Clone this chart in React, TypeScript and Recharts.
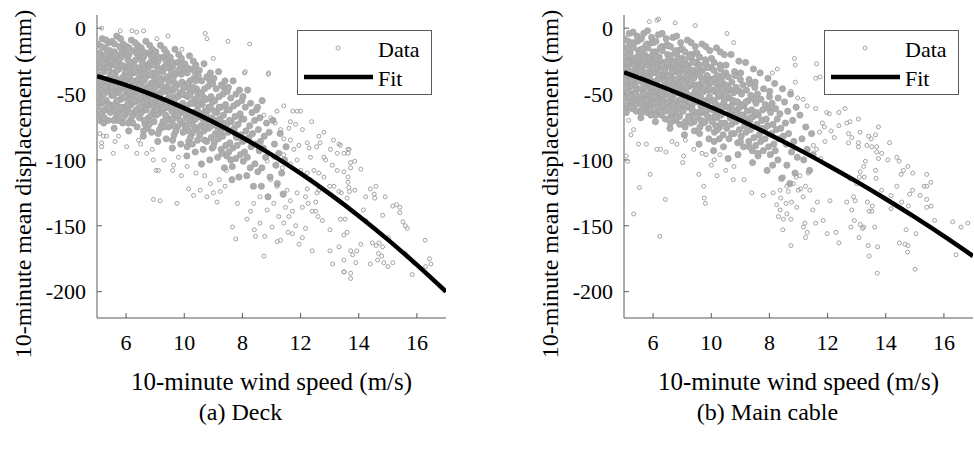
import React from 'react'
import { ScatterChart, Scatter, XAxis, YAxis, Legend } from 'recharts'

const FONT = '"Liberation Serif", "DejaVu Serif", "Times New Roman", Times, serif'

// axis ticks (the x labels are printed out of order in the source figure)
const xTicks = [6, 8, 10, 12, 14, 16]
const xTickLabels = ['6', '10', '8', '12', '14', '16']
const yTicks = [0, -50, -100, -150, -200]

// fitted curves, read at whole m/s
const fitX = [5, 6, 7, 8, 9, 10, 11, 12, 13, 14, 15, 16, 17]
const deckFitY = [-36.5, -43.3, -51.4, -60.7, -71.2, -83, -96, -110.3, -125.8, -142.5, -160.5, -179.7, -200]
const cableFitY = [-33.6, -41.8, -50.6, -60, -69.9, -80.7, -92, -104, -116.5, -129.7, -143.5, -157.9, -173]

// deck: dense cloud (low wind)
const deckDense: [number, number][] = [
  [5.02,-12],[5.05,-28],[5.08,-45],[5.03,-60],[5.1,-19],[5.12,-37],[5.07,-52],[5.15,-66],[5.18,-8],[5.2,-24],[5.22,-41],[5.17,-57],[5.25,-33],[5.28,-15],[5.3,-48],[5.27,-62],[5.33,-27],[5.35,-39],[5.32,-55],[5.38,-70],[5.4,-11],[5.42,-30],[5.45,-44],[5.43,-58],[5.48,-21],[5.47,-35],[5.5,-51],[5.04,-35],[5.14,-47],[5.24,-50],[5.36,-20],[5.46,-64],[5.09,-70],[5.19,-30],[5.29,-40],[5.39,-47],[5.11,-56],[5.21,-63],[5.31,-9],[5.41,-38],[5.06,-21],[5.16,-42],[5.26,-23],[5.37,-60],[5.44,-17],[5.01,-50],[5.13,-25],[5.23,-72],[5.34,-45],[5.49,-42],
  [5.52,-10],[5.55,-27],[5.58,-43],[5.53,-59],[5.6,-18],[5.62,-36],[5.57,-51],[5.65,-68],[5.68,-6],[5.7,-25],[5.72,-40],[5.67,-56],[5.75,-31],[5.78,-14],[5.8,-47],[5.77,-63],[5.83,-22],[5.85,-38],[5.82,-54],[5.88,-72],[5.9,-12],[5.92,-29],[5.95,-45],[5.93,-60],[5.98,-20],[5.97,-34],[6.0,-50],[5.54,-34],[5.64,-46],[5.74,-49],[5.86,-18],[5.96,-66],[5.59,-76],[5.69,-32],[5.79,-41],[5.89,-53],[5.61,-58],[5.71,-65],[5.81,-8],[5.91,-37],[5.56,-22],[5.66,-44],[5.76,-24],[5.87,-61],[5.94,-16],[5.51,-48],[5.63,-28],[5.73,-70],[5.84,-44],[5.99,-40],
  [6.02,-14],[6.05,-30],[6.08,-46],[6.03,-62],[6.1,-20],[6.12,-38],[6.07,-54],[6.15,-70],[6.18,-9],[6.2,-26],[6.22,-43],[6.17,-58],[6.25,-34],[6.28,-17],[6.3,-50],[6.27,-65],[6.33,-24],[6.35,-40],[6.32,-56],[6.38,-75],[6.4,-13],[6.42,-32],[6.45,-47],[6.43,-61],[6.48,-22],[6.47,-36],[6.5,-53],[6.04,-37],[6.14,-49],[6.24,-52],[6.36,-19],[6.46,-68],[6.09,-78],[6.19,-33],[6.29,-42],[6.39,-55],[6.11,-59],[6.21,-67],[6.31,-11],[6.41,-39],[6.06,-24],[6.16,-45],[6.26,-28],[6.37,-63],[6.44,-18],[6.01,-51],[6.13,-29],[6.23,-72],[6.34,-46],[6.49,-43],
  [6.52,-15],[6.55,-32],[6.58,-48],[6.53,-64],[6.6,-22],[6.62,-40],[6.57,-56],[6.65,-73],[6.68,-10],[6.7,-28],[6.72,-45],[6.67,-60],[6.75,-36],[6.78,-19],[6.8,-52],[6.77,-68],[6.83,-26],[6.85,-42],[6.82,-58],[6.88,-79],[6.9,-16],[6.92,-34],[6.95,-50],[6.93,-64],[6.98,-24],[6.97,-38],[7.0,-55],[6.54,-39],[6.64,-51],[6.74,-55],[6.86,-21],[6.96,-71],[6.59,-82],[6.69,-35],[6.79,-45],[6.89,-57],[6.61,-62],[6.71,-70],[6.81,-13],[6.91,-42],[6.56,-26],[6.66,-47],[6.76,-30],[6.87,-66],[6.94,-20],[6.51,-53],[6.63,-31],[6.73,-76],[6.84,-48],
  [7.02,-18],[7.05,-34],[7.08,-50],[7.03,-66],[7.1,-25],[7.12,-43],[7.07,-59],[7.15,-77],[7.18,-13],[7.2,-31],[7.22,-48],[7.17,-63],[7.25,-39],[7.28,-22],[7.3,-55],[7.27,-71],[7.33,-29],[7.35,-45],[7.32,-61],[7.38,-84],[7.4,-19],[7.42,-37],[7.45,-53],[7.43,-68],[7.48,-27],[7.47,-41],[7.5,-58],[7.04,-42],[7.14,-54],[7.24,-58],[7.36,-24],[7.46,-75],[7.09,-86],[7.19,-38],[7.29,-48],[7.39,-60],[7.11,-65],[7.21,-74],[7.31,-16],[7.41,-46],[7.06,-29],[7.16,-51],[7.26,-33],[7.37,-70],[7.44,-23],
  [7.52,-22],[7.55,-38],[7.58,-54],[7.53,-70],[7.6,-29],[7.62,-47],[7.57,-63],[7.65,-81],[7.68,-16],[7.7,-35],[7.72,-52],[7.67,-67],[7.75,-43],[7.78,-26],[7.8,-59],[7.77,-75],[7.83,-33],[7.85,-49],[7.82,-65],[7.88,-88],[7.9,-23],[7.92,-41],[7.95,-57],[7.93,-72],[7.98,-31],[7.97,-45],[8.0,-62],[7.54,-46],[7.64,-58],[7.74,-62],[7.86,-28],[7.96,-79],[7.59,-91],[7.69,-42],[7.79,-52],[7.89,-64],[7.61,-69],[7.71,-78],[7.81,-20],[7.91,-50],[7.56,-33],[7.66,-55],
  [8.02,-27],[8.05,-43],[8.08,-59],[8.03,-75],[8.1,-34],[8.12,-52],[8.07,-68],[8.15,-86],[8.18,-21],[8.2,-40],[8.22,-57],[8.17,-72],[8.25,-48],[8.28,-31],[8.3,-64],[8.27,-80],[8.33,-38],[8.35,-54],[8.32,-70],[8.38,-94],[8.4,-28],[8.42,-46],[8.45,-62],[8.43,-77],[8.48,-36],[8.47,-50],[8.5,-67],[8.04,-51],[8.14,-63],[8.24,-67],[8.36,-33],[8.46,-85],[8.09,-97],[8.19,-47],[8.29,-57],[8.39,-69],[8.11,-74],[8.21,-83],[8.31,-25],[8.41,-55],
  [8.52,-32],[8.55,-49],[8.58,-65],[8.53,-81],[8.6,-40],[8.62,-58],[8.57,-74],[8.65,-92],[8.68,-27],[8.7,-46],[8.72,-63],[8.67,-78],[8.75,-54],[8.78,-37],[8.8,-70],[8.77,-86],[8.83,-44],[8.85,-60],[8.82,-76],[8.88,-100],[8.9,-34],[8.92,-52],[8.95,-68],[8.93,-83],[8.98,-42],[8.97,-56],[9.0,-73],[8.54,-57],[8.64,-69],[8.74,-73],[8.86,-39],[8.96,-91],[8.59,-103],[8.69,-53],[8.79,-63],[8.89,-75],
  [9.02,-38],[9.05,-55],[9.08,-71],[9.03,-87],[9.1,-46],[9.12,-64],[9.07,-80],[9.15,-98],[9.18,-33],[9.2,-52],[9.22,-69],[9.17,-84],[9.25,-60],[9.28,-43],[9.3,-76],[9.27,-92],[9.33,-50],[9.35,-66],[9.32,-82],[9.38,-106],[9.4,-40],[9.42,-58],[9.45,-74],[9.43,-89],[9.48,-48],[9.47,-62],[9.5,-79],[9.04,-63],[9.14,-75],[9.24,-79],[9.36,-45],[9.46,-97],
  [9.52,-45],[9.55,-62],[9.58,-78],[9.53,-94],[9.6,-53],[9.62,-71],[9.57,-87],[9.65,-105],[9.68,-40],[9.7,-59],[9.72,-76],[9.67,-91],[9.75,-67],[9.78,-50],[9.8,-83],[9.77,-99],[9.83,-57],[9.85,-73],[9.82,-89],[9.88,-113],[9.9,-47],[9.92,-65],[9.95,-81],[9.93,-96],[9.98,-55],[9.97,-69],[10.0,-86],[9.64,-115],
  [10.02,-52],[10.05,-69],[10.08,-85],[10.03,-101],[10.1,-60],[10.12,-78],[10.07,-94],[10.15,-112],[10.18,-47],[10.22,-83],[10.17,-98],[10.25,-74],[10.28,-57],[10.3,-90],[10.27,-106],[10.33,-64],[10.35,-80],[10.38,-120],[10.42,-70],[10.45,-88],[10.43,-103],[10.48,-62],
  [10.52,-60],[10.55,-77],[10.58,-93],[10.53,-109],[10.6,-68],[10.62,-86],[10.65,-120],[10.68,-55],[10.72,-91],[10.67,-106],[10.75,-82],[10.8,-98],[10.83,-72],[10.88,-128],[10.92,-79],[10.95,-113],
  [11.05,-70],[11.1,-88],[11.15,-104],[11.2,-118],[11.25,-95],[11.3,-80],[11.35,-110],[11.4,-126],[11.45,-100],[11.5,-90],
  [5.05,-40],[5.2,-55],[5.35,-30],[5.12,-65],[5.45,-25],[5.28,-45],[5.4,-60],[5.55,-35],[5.7,-55],[5.85,-28],[5.62,-63],[5.95,-52],[5.78,-40],[5.9,-68],[6.05,-58],[6.2,-40],[6.35,-62],[6.12,-26],[6.45,-30],[6.28,-55],[6.4,-48],[6.55,-45],[6.7,-62],[6.85,-35],[6.62,-70],[6.95,-60],[6.78,-50],[6.9,-28],[7.05,-62],[7.2,-43],[7.35,-66],[7.12,-32],[7.45,-48],[7.28,-60],[7.4,-30],[7.55,-60],[7.7,-45],[7.85,-70],[7.62,-38],[7.95,-50],[7.78,-66],[7.9,-35],[8.05,-65],[8.2,-50],[8.35,-75],[8.12,-42],[8.45,-58],[8.28,-88],[8.4,-40],
  [5.1,-30],[5.3,-20],[5.5,-44],[5.65,-20],[5.8,-60],[6.0,-33],[6.15,-64],[6.3,-33],[6.5,-60],[6.65,-38],[6.8,-73],[7.0,-45],[7.15,-40],[7.3,-75],[7.5,-50],[7.65,-74],[7.8,-32],[8.0,-45],[8.15,-78],[8.3,-45],[8.5,-55],[8.6,-50],[8.75,-66],[8.9,-60],[9.05,-70],[9.2,-60],[9.35,-72],[9.55,-70],[9.75,-80],[8.7,-85],[9.0,-90],[9.3,-95],[9.6,-100],
  [5.25,-68],[5.58,-70],[6.08,-72],[6.6,-78],[7.1,-80],[7.6,-85],[8.1,-90],[5.15,-14],[5.6,-12],[6.1,-15],[6.6,-18],[7.1,-22],[7.6,-26],[8.1,-30],
]

// deck: scattered points (outliers and high wind)
const deckSparse: [number, number][] = [
  [8.72,-4],[8.78,-8],[9.5,-10],[10.25,-12],[9.0,-23],[10.1,-33],[10.9,-34],[7.92,-16],[7.44,-6],[7.06,-8],[6.6,-2],[6.37,-3],[6.2,-2],[5.8,-2],[5.16,0],
  [9.24,-124],[9.13,-132],[9.0,-125],[8.78,-128],[8.15,-122],[8.32,-127],[7.75,-133],[7.17,-131],[6.94,-130],[8.55,-123],
  [8.1,-105],[8.4,-110],[8.7,-112],[8.9,-118],[9.2,-115],[9.4,-120],[7.6,-108],[7.9,-112],[8.6,-104],[9.45,-108],[7.3,-100],[7.8,-98],[6.9,-92],[6.5,-88],
  [5.1,-80],[5.22,-82],[5.16,-87],[5.33,-82],[5.74,-82],[5.62,-86],[6.02,-90],[6.37,-95],[6.71,-95],[6.94,-100],[7.03,-108],[7.11,-108],[7.63,-104],[6.43,-85],[5.56,-95],[5.16,-90],
  [10.07,-34],[10.89,-35],[11.73,-63],[11.88,-63],[12.0,-63],[11.42,-59],[12.38,-71],[12.8,-79],[12.63,-82],[12.67,-87],[12.55,-90],[13.13,-85],[13.32,-88],[13.67,-92],[12.23,-87],[12.34,-98],[13.03,-92],[13.26,-95],[12.86,-100],[13.09,-104],[13.26,-108],[13.15,-120],[13.0,-120],[13.32,-124],[12.63,-123],[12.52,-132],[12.4,-139],[12.75,-146],[13.01,-153],[13.01,-169],[13.32,-166],[13.5,-185],[13.1,-179],[12.4,-169],[11.95,-164],[12.06,-159],[11.72,-156],[11.57,-155],[11.2,-162],[11.31,-161],[10.74,-173],[10.77,-158],[10.45,-158],[10.41,-153],[10.6,-148],[11.02,-151],[11.42,-148],[11.6,-143],[11.83,-150],[12.17,-152],[11.72,-139],[12.06,-136],[12.26,-133],[12.52,-139],[12.6,-143],[11.25,-143],[11.48,-136],[11.08,-133],[10.85,-138],[10.6,-128],[10.39,-133],[10.16,-145],[10.28,-139],[9.83,-133],[9.77,-160],[9.66,-151],[11.19,-120],[11.54,-123],[11.88,-125],[11.65,-131],[12.17,-128],[12.23,-122],[12.57,-125],[10.97,-115],[11.37,-106],[11.65,-103],[11.88,-100],[12.0,-108],[12.23,-110],[12.46,-108],[12.63,-110],[12.8,-113],[12.34,-115],[10.85,-101],[11.08,-98],[11.42,-96],[11.77,-92],[11.94,-89],[11.65,-85],[11.42,-84],[12.06,-77],[11.83,-73],[11.6,-76],[11.31,-77],[11.13,-72],[10.97,-68],[10.74,-66],[11.19,-63],[11.65,-71],[12.29,-91],[12.8,-98],
  [13.63,-92],[13.63,-95],[13.49,-95],[13.86,-101],[13.72,-102],[13.72,-106],[14.07,-107],[13.49,-109],[13.63,-113],[13.63,-117],[13.66,-121],[13.86,-123],[13.68,-124],[13.6,-129],[14.4,-122],[14.59,-120],[14.53,-126],[14.55,-129],[14.24,-128],[14.91,-128],[14.16,-138],[14.24,-146],[15.17,-135],[15.3,-134],[15.41,-136],[15.41,-140],[15.52,-147],[15.6,-150],[15.67,-152],[14.82,-142],[15.02,-159],[14.47,-163],[14.6,-165],[14.7,-163],[14.82,-166],[14.68,-171],[14.79,-173],[14.07,-164],[13.93,-169],[13.72,-169],[13.79,-172],[13.9,-178],[13.72,-186],[13.49,-185],[13.72,-190],[14.4,-179],[14.65,-176],[14.86,-178],[15.0,-181],[15.17,-178],[15.6,-171],[15.67,-173],[15.84,-187],[15.9,-178],[16.28,-161],[16.43,-175],[16.48,-179],[16.3,-181],[13.49,-176],[13.37,-145],[13.53,-145],[13.49,-157],[13.6,-155],[13.4,-125],[13.37,-89],
]

// main cable: dense cloud
const cableDense: [number, number][] = [
  [5.01,-8],[5.04,-22],[5.07,-38],[5.03,-53],[5.09,-15],[5.12,-31],[5.15,-46],[5.11,-60],[5.18,-4],[5.21,-19],[5.24,-35],[5.2,-50],[5.27,-27],[5.3,-11],[5.33,-42],[5.29,-57],[5.36,-23],[5.39,-34],[5.35,-49],[5.42,-63],[5.45,-6],[5.48,-26],[5.44,-39],[5.47,-54],[5.5,-17],[5.05,-30],[5.14,-40],[5.23,-44],[5.32,-14],[5.41,-58],[5.08,-64],[5.17,-25],[5.26,-33],[5.38,-43],[5.13,-49],[5.22,-55],[5.31,-3],[5.4,-29],[5.02,-18],[5.16,-36],[5.25,-12],[5.34,-52],[5.46,-10],[5.06,-45],[5.19,-21],[5.28,-61],[5.37,-37],[5.49,-33],[5.1,-27],[5.43,-47],
  [5.51,-9],[5.54,-23],[5.57,-39],[5.53,-55],[5.59,-16],[5.62,-32],[5.65,-47],[5.61,-62],[5.68,-4],[5.71,-20],[5.74,-36],[5.7,-52],[5.77,-28],[5.8,-12],[5.83,-43],[5.79,-59],[5.86,-24],[5.89,-35],[5.85,-50],[5.92,-66],[5.95,-7],[5.98,-27],[5.94,-40],[5.97,-56],[6.0,-18],[5.55,-31],[5.64,-41],[5.73,-45],[5.82,-15],[5.91,-61],[5.58,-68],[5.67,-26],[5.76,-34],[5.88,-44],[5.63,-51],[5.72,-57],[5.81,-2],[5.9,-30],[5.52,-19],[5.66,-37],[5.75,-13],[5.84,-54],[5.96,-11],[5.56,-46],[5.69,-22],[5.78,-64],[5.87,-38],[5.99,-34],[5.6,-28],[5.93,-48],
  [6.01,-11],[6.04,-25],[6.07,-41],[6.03,-57],[6.09,-18],[6.12,-34],[6.15,-49],[6.11,-64],[6.18,-5],[6.21,-22],[6.24,-38],[6.2,-54],[6.27,-30],[6.3,-14],[6.33,-45],[6.29,-61],[6.36,-26],[6.39,-37],[6.35,-52],[6.42,-69],[6.45,-8],[6.48,-29],[6.44,-42],[6.47,-58],[6.5,-20],[6.05,-33],[6.14,-43],[6.23,-47],[6.32,-17],[6.41,-63],[6.08,-71],[6.17,-28],[6.26,-36],[6.38,-46],[6.13,-53],[6.22,-59],[6.31,-4],[6.4,-32],[6.02,-21],[6.16,-39],[6.25,-15],[6.34,-56],[6.46,-13],[6.06,-48],[6.19,-24],[6.28,-66],[6.37,-40],[6.49,-36],[6.1,-30],[6.43,-50],
  [6.51,-13],[6.54,-28],[6.57,-44],[6.53,-60],[6.59,-21],[6.62,-37],[6.65,-52],[6.61,-67],[6.68,-7],[6.71,-25],[6.74,-41],[6.7,-57],[6.77,-33],[6.8,-17],[6.83,-48],[6.79,-64],[6.86,-29],[6.89,-40],[6.85,-55],[6.92,-73],[6.95,-11],[6.98,-32],[6.94,-45],[6.97,-61],[7.0,-23],[6.55,-36],[6.64,-46],[6.73,-50],[6.82,-20],[6.91,-67],[6.58,-76],[6.67,-31],[6.76,-39],[6.88,-49],[6.63,-56],[6.72,-63],[6.81,-6],[6.9,-35],[6.52,-24],[6.66,-42],[6.75,-18],[6.84,-59],[6.96,-16],[6.56,-51],[6.69,-27],[6.78,-70],[6.87,-43],[6.99,-39],
  [7.01,-16],[7.04,-31],[7.07,-47],[7.03,-63],[7.09,-24],[7.12,-40],[7.15,-55],[7.11,-71],[7.18,-9],[7.21,-28],[7.24,-44],[7.2,-60],[7.27,-36],[7.3,-20],[7.33,-51],[7.29,-67],[7.36,-32],[7.39,-43],[7.35,-58],[7.42,-78],[7.45,-14],[7.48,-35],[7.44,-48],[7.47,-64],[7.5,-26],[7.05,-39],[7.14,-49],[7.23,-53],[7.32,-23],[7.41,-71],[7.08,-81],[7.17,-34],[7.26,-42],[7.38,-52],[7.13,-59],[7.22,-67],[7.31,-11],[7.4,-38],[7.02,-27],[7.16,-45],[7.25,-21],[7.34,-62],[7.46,-19],[7.06,-54],[7.19,-30],
  [7.51,-19],[7.54,-35],[7.57,-51],[7.53,-67],[7.59,-28],[7.62,-44],[7.65,-59],[7.61,-75],[7.68,-12],[7.71,-32],[7.74,-48],[7.7,-64],[7.77,-40],[7.8,-24],[7.83,-55],[7.79,-71],[7.86,-36],[7.89,-47],[7.85,-62],[7.92,-84],[7.95,-17],[7.98,-39],[7.94,-52],[7.97,-68],[8.0,-30],[7.55,-43],[7.64,-53],[7.73,-57],[7.82,-27],[7.91,-76],[7.58,-88],[7.67,-38],[7.76,-46],[7.88,-56],[7.63,-63],[7.72,-72],[7.81,-14],[7.9,-42],[7.52,-31],[7.66,-49],
  [8.01,-23],[8.04,-39],[8.07,-55],[8.03,-71],[8.09,-32],[8.12,-48],[8.15,-63],[8.11,-79],[8.18,-15],[8.21,-36],[8.24,-52],[8.2,-68],[8.27,-44],[8.3,-28],[8.33,-59],[8.29,-75],[8.36,-40],[8.39,-51],[8.35,-66],[8.42,-90],[8.45,-20],[8.48,-43],[8.44,-56],[8.47,-72],[8.5,-34],[8.05,-47],[8.14,-57],[8.23,-61],[8.32,-31],[8.41,-81],[8.08,-93],[8.17,-42],[8.26,-50],[8.38,-60],[8.13,-67],[8.22,-77],[8.31,-18],[8.4,-46],
  [8.51,-28],[8.54,-44],[8.57,-60],[8.53,-76],[8.59,-37],[8.62,-53],[8.65,-68],[8.61,-84],[8.68,-20],[8.71,-41],[8.74,-57],[8.7,-73],[8.77,-49],[8.8,-33],[8.83,-64],[8.79,-80],[8.86,-45],[8.89,-56],[8.85,-71],[8.92,-96],[8.95,-25],[8.98,-48],[8.94,-61],[8.97,-77],[9.0,-39],[8.55,-52],[8.64,-62],[8.73,-66],[8.82,-36],[8.91,-87],[8.58,-99],[8.67,-47],[8.76,-55],[8.88,-65],
  [9.01,-34],[9.04,-50],[9.07,-66],[9.03,-82],[9.09,-43],[9.12,-59],[9.15,-74],[9.11,-90],[9.18,-26],[9.21,-47],[9.24,-63],[9.2,-79],[9.27,-55],[9.3,-39],[9.33,-70],[9.29,-86],[9.36,-51],[9.39,-62],[9.35,-77],[9.42,-102],[9.45,-31],[9.48,-54],[9.44,-67],[9.47,-83],[9.5,-45],[9.05,-58],[9.14,-68],[9.23,-72],[9.32,-42],[9.41,-93],
  [9.51,-41],[9.54,-57],[9.57,-73],[9.53,-89],[9.59,-50],[9.62,-66],[9.65,-81],[9.61,-97],[9.68,-34],[9.71,-54],[9.74,-70],[9.7,-86],[9.77,-62],[9.8,-46],[9.83,-77],[9.79,-93],[9.86,-58],[9.89,-69],[9.85,-84],[9.92,-108],[9.95,-38],[9.98,-61],[9.94,-74],[9.97,-90],[10.0,-52],
  [10.01,-48],[10.04,-64],[10.07,-80],[10.03,-96],[10.09,-57],[10.12,-73],[10.15,-88],[10.11,-104],[10.18,-42],[10.21,-61],[10.24,-77],[10.2,-93],[10.27,-69],[10.3,-53],[10.33,-84],[10.29,-100],[10.36,-65],[10.39,-76],[10.42,-114],[10.45,-46],[10.48,-82],
  [10.52,-56],[10.55,-72],[10.58,-88],[10.6,-104],[10.63,-63],[10.66,-80],[10.7,-118],[10.73,-50],[10.76,-94],[10.8,-70],[10.84,-86],[10.88,-110],[10.92,-60],[10.96,-98],
  [11.05,-66],[11.12,-84],[11.18,-100],[11.25,-75],[11.3,-92],[11.38,-108],[11.45,-80],[11.5,-96],
  [5.05,-40],[5.2,-52],[5.35,-28],[5.12,-58],[5.45,-22],[5.28,-40],[5.4,-50],[5.55,-33],[5.7,-50],[5.85,-22],[5.62,-58],[5.95,-45],[5.78,-38],[5.9,-62],[6.05,-52],[6.2,-35],[6.35,-58],[6.12,-22],[6.45,-26],[6.28,-50],[6.4,-44],[6.55,-40],[6.7,-58],[6.85,-30],[6.62,-64],[6.95,-54],[6.78,-46],[6.9,-24],[7.05,-58],[7.2,-38],[7.35,-62],[7.12,-28],[7.45,-44],[7.28,-56],[7.4,-26],[7.55,-56],[7.7,-41],[7.85,-66],[7.62,-34],[7.95,-46],[7.78,-62],[7.9,-30],[8.05,-62],[8.2,-46],[8.35,-72],[8.12,-38],[8.45,-54],[8.28,-84],[8.4,-36],
  [5.1,-26],[5.3,-15],[5.5,-40],[5.65,-16],[5.8,-55],[6.0,-30],[6.15,-60],[6.3,-28],[6.5,-56],[6.65,-33],[6.8,-68],[7.0,-41],[7.15,-36],[7.3,-72],[7.5,-46],[7.65,-70],[7.8,-27],[8.0,-41],[8.15,-74],[8.3,-41],[8.5,-50],[8.6,-46],[8.75,-62],[8.9,-56],[9.05,-66],[9.2,-56],[9.35,-68],[9.55,-64],[9.75,-76],[8.7,-80],[9.0,-86],[9.3,-90],[9.6,-95],
  [5.25,-60],[5.58,-64],[6.08,-66],[6.6,-72],[7.1,-75],[7.6,-80],[8.1,-86],[5.15,-10],[5.6,-8],[6.1,-10],[6.6,-14],[7.1,-18],[7.6,-22],[8.1,-26],
]

// main cable: scattered points
const cableSparse: [number, number][] = [
  [6.19,7],[6.13,6],[5.87,5],[6.76,4],[7.45,2],[8.54,-4],[8.77,-11],
  [5.08,-97],[5.13,-101],[5.33,-141],[5.53,-121],[5.9,-111],[6.23,-158],[6.42,-130],[6.13,-92],[6.25,-92],[6.44,-94],[5.77,-88],[5.5,-88],[7.57,-111],[7.74,-120],[7.76,-129],[7.8,-133],[7.05,-97],[7.02,-102],[7.68,-95],[7.82,-96],[7.11,-85],[6.82,-88],[6.65,-86],[5.33,-77],[5.24,-81],[5.16,-70],
  [8.1,-100],[8.3,-96],[8.5,-108],[8.0,-104],[7.4,-92],[8.2,-112],
  [10.86,-23],[10.89,-28],[11.62,-27],[11.59,-38],[11.74,-37],[10.89,-41],[10.1,-34],[10.27,-31],[10.74,-48],[10.97,-53],[11.16,-54],[11.3,-59],[11.59,-61],[11.97,-64],[12.06,-65],[12.39,-64],[11.82,-72],[11.89,-75],[11.72,-79],[12.12,-78],[12.39,-74],[12.23,-83],[11.91,-86],[11.62,-92],[11.51,-89],[11.77,-99],[11.34,-110],[11.05,-112],[10.92,-113],[11.24,-120],[11.39,-123],[11.07,-122],[11.49,-138],[11.65,-132],[12.08,-131],[11.85,-146],[11.99,-156],[12.29,-155],[12.39,-163],[10.74,-165],[10.37,-138],[10.31,-143],[10.48,-145],[10.46,-153],[10.6,-141],[10.74,-145],[10.25,-134],[10.39,-129],[10.57,-133],[10.76,-132],[10.94,-136],[11.22,-148],[11.17,-151],[11.3,-155],[11.24,-159],[11.59,-148],[10.99,-123],[11.16,-128],[9.79,-127],[9.39,-125],[9.13,-115],[8.78,-105],[8.76,-115],[10.13,-125],[10.37,-123],[10.6,-120],[10.65,-124],[10.82,-118],[10.48,-113],
  [12.6,-61],[12.66,-72],[12.77,-71],[13.06,-69],[13.12,-79],[12.72,-80],[12.83,-83],[12.72,-87],[13.06,-87],[13.06,-90],[13.41,-82],[13.5,-84],[13.65,-81],[13.75,-75],[14.13,-87],[13.35,-89],[13.52,-90],[13.69,-90],[13.69,-94],[13.86,-95],[13.75,-99],[14.07,-100],[14.38,-98],[14.46,-101],[14.76,-105],[14.61,-108],[14.53,-111],[14.93,-110],[15.41,-111],[15.55,-117],[15.32,-120],[15.41,-120],[14.92,-123],[14.82,-126],[15.18,-127],[15.41,-130],[15.56,-135],[15.41,-136],[14.78,-135],[14.55,-132],[14.18,-127],[14.18,-137],[14.38,-120],[13.86,-123],[13.67,-114],[13.65,-108],[13.3,-101],[13.12,-109],[13.24,-105],[13.09,-113],[13.26,-113],[12.77,-114],[13.0,-118],[12.95,-131],[12.66,-132],[12.89,-128],[13.37,-132],[13.54,-135],[13.43,-139],[13.52,-139],[12.83,-138],[12.92,-146],[12.8,-151],[13.12,-149],[13.24,-151],[13.2,-152],[13.62,-151],[13.08,-159],[13.4,-165],[13.72,-166],[13.43,-173],[13.71,-186],[14.7,-153],[15.04,-156],[14.47,-163],[14.66,-164],[14.77,-165],[14.75,-170],[15.01,-183],[15.68,-146],[16.3,-147],[16.59,-151],[16.82,-148],[16.42,-172],
]

const toPts = (arr: [number, number][]) => arr.map(([x, y]) => ({ x, y }))
const fitPts = (ys: number[]) => fitX.map((x, i) => ({ x, y: ys[i] }))

const AXIS = '#5a5a5a'
const GREY = '#a3a3a3'

function denseDot(props: any) {
  return <circle cx={props.cx} cy={props.cy} r={3.1} fill="#adadad" stroke={GREY} strokeWidth={0.8} />
}
function ringDot(props: any) {
  return <circle cx={props.cx} cy={props.cy} r={2} fill="none" stroke={GREY} strokeWidth={1} />
}
function noDot() {
  return <g />
}

function LegendBox() {
  return (
    <div
      style={{
        position: 'relative',
        width: 135,
        height: 65,
        border: `1px solid ${AXIS}`,
        boxSizing: 'border-box',
        background: '#fff',
        fontFamily: FONT,
        fontSize: 22,
        color: '#000',
      }}
    >
      <svg width={135} height={65} style={{ position: 'absolute', left: -1, top: -1 }}>
        <circle cx={41} cy={18} r={2} fill="none" stroke={GREY} />
        <line x1={7} x2={76} y1={47} y2={47} stroke="#000" strokeWidth={4.5} />
      </svg>
      <span style={{ position: 'absolute', left: 80, top: 5, lineHeight: '28px' }}>Data</span>
      <span style={{ position: 'absolute', left: 80, top: 34, lineHeight: '28px' }}>Fit</span>
    </div>
  )
}

type PanelProps = {
  left: number
  marginLeft: number
  marginRight: number
  dense: [number, number][]
  sparse: [number, number][]
  fitY: number[]
  caption: string
}

function Panel({ left, marginLeft, marginRight, dense, sparse, fitY, caption }: PanelProps) {
  const plotLeft = marginLeft + 60
  const plotRight = 487 - marginRight
  const plotMid = (plotLeft + plotRight) / 2
  const tickStyle = { fill: '#000', fontSize: 22, fontFamily: FONT }
  return (
    <div style={{ position: 'absolute', left, top: 0, width: 487, height: 452, fontFamily: FONT }}>
      <ScatterChart
        width={487}
        height={452}
        margin={{ top: 15, right: marginRight, bottom: 104, left: marginLeft }}
        style={{ fontFamily: FONT }}
      >
        <XAxis
          type="number"
          dataKey="x"
          domain={[5, 17]}
          ticks={xTicks}
          allowDataOverflow
          height={30}
          stroke={AXIS}
          tickSize={-5}
          tickMargin={21}
          tick={tickStyle}
          tickFormatter={(v: number, i: number) => xTickLabels[i] ?? String(v)}
        />
        <XAxis
          xAxisId="top"
          orientation="top"
          type="number"
          dataKey="x"
          domain={[5, 17]}
          ticks={xTicks}
          allowDataOverflow
          height={0}
          stroke={AXIS}
          tickSize={-5}
          tick={false}
        />
        <YAxis
          type="number"
          dataKey="y"
          domain={[-220, 10]}
          ticks={yTicks}
          allowDataOverflow
          width={60}
          stroke={AXIS}
          tickSize={-5}
          tickMargin={16}
          tick={tickStyle}
        />
        <YAxis
          yAxisId="right"
          orientation="right"
          type="number"
          dataKey="y"
          domain={[-220, 10]}
          ticks={yTicks}
          allowDataOverflow
          width={0}
          stroke={AXIS}
          tickSize={-5}
          tick={false}
        />
        <Legend
          layout="horizontal"
          verticalAlign="middle"
          align="center"
          content={() => <LegendBox />}
          wrapperStyle={{ left: plotRight - 149, top: 30, width: 135, height: 65 }}
        />
        <Scatter data={toPts(dense)} shape={denseDot} isAnimationActive={false} legendType="none" />
        <Scatter data={toPts(sparse)} shape={ringDot} isAnimationActive={false} legendType="none" />
        <Scatter
          data={fitPts(fitY)}
          shape={noDot}
          line={{ stroke: '#000', strokeWidth: 4.5 }}
          lineJointType="monotoneX"
          isAnimationActive={false}
          legendType="none"
        />
      </ScatterChart>
      <div
        style={{
          position: 'absolute',
          left: plotLeft - 74 - 200,
          top: 184 - 14,
          width: 400,
          height: 28,
          lineHeight: '28px',
          textAlign: 'center',
          transform: 'rotate(-90deg)',
          fontSize: 24,
          whiteSpace: 'nowrap',
        }}
      >
        10-minute mean displacement (mm)
      </div>
      <div
        style={{
          position: 'absolute',
          left: plotMid - 200,
          top: 382 - 15,
          width: 400,
          lineHeight: '30px',
          textAlign: 'center',
          fontSize: 25,
          whiteSpace: 'nowrap',
        }}
      >
        10-minute wind speed (m/s)
      </div>
      <div
        style={{
          position: 'absolute',
          left: plotMid - 31 - 200,
          top: 412 - 15,
          width: 400,
          lineHeight: '30px',
          textAlign: 'center',
          fontSize: 24,
          whiteSpace: 'nowrap',
        }}
      >
        {caption}
      </div>
    </div>
  )
}

export default function App() {
  return (
    <div style={{ position: 'absolute', left: 0, top: 0, width: 974, height: 452, background: '#fff' }}>
      <Panel left={0} marginLeft={37} marginRight={41} dense={deckDense} sparse={deckSparse} fitY={deckFitY} caption="(a) Deck" />
      <Panel left={487} marginLeft={77} marginRight={1} dense={cableDense} sparse={cableSparse} fitY={cableFitY} caption="(b) Main cable" />
    </div>
  )
}
